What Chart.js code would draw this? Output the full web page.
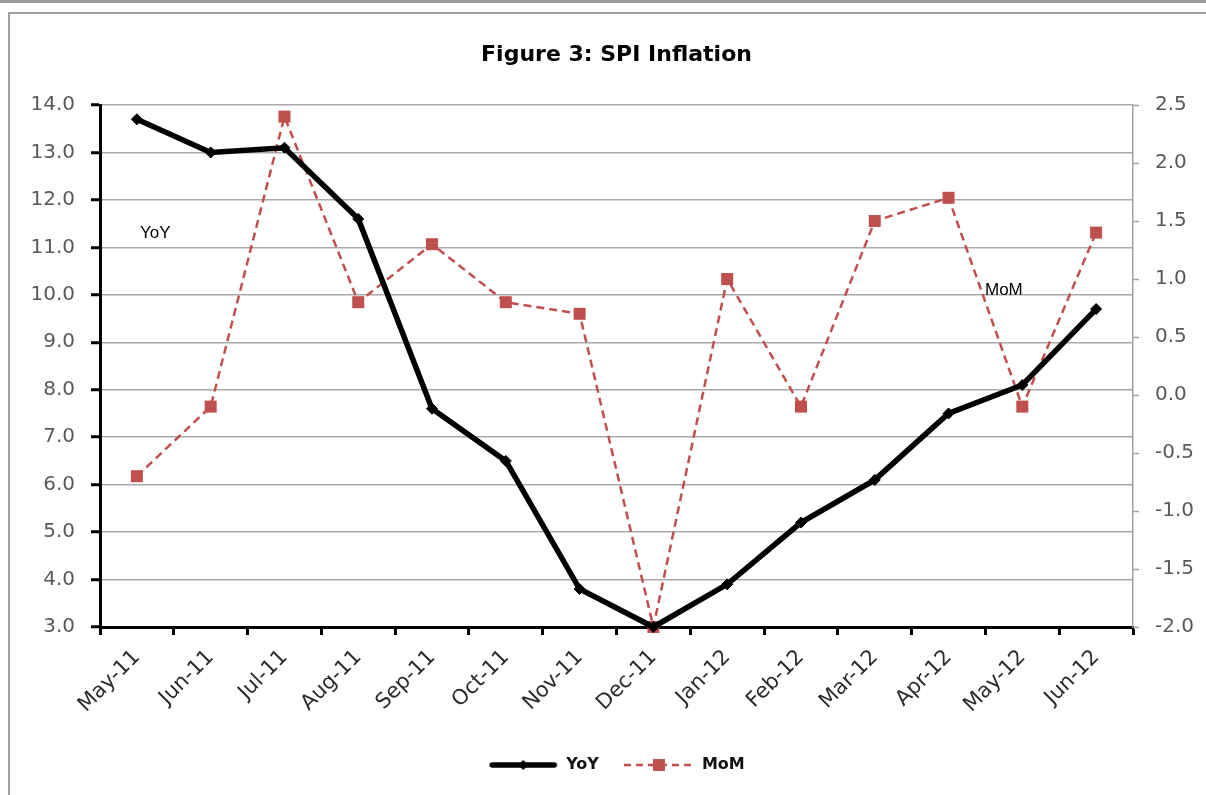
<!DOCTYPE html>
<html><head><meta charset="utf-8">
<script src="https://cdn.jsdelivr.net/npm/chart.js@4.4.1/dist/chart.umd.min.js"></script>
<style>html,body{margin:0;padding:0;background:#fff;overflow:hidden}#wrap{width:1206px;height:795px}</style>
</head><body><div id="wrap"><canvas id="c" width="1206" height="795"></canvas></div>
<script>
const categories = ['May-11','Jun-11','Jul-11','Aug-11','Sep-11','Oct-11','Nov-11','Dec-11','Jan-12','Feb-12','Mar-12','Apr-12','May-12','Jun-12'];
const yoyValues = [13.7,13.0,13.1,11.6,7.6,6.5,3.8,3.0,3.9,5.2,6.1,7.5,8.1,9.7];
const momValues = [-0.7,-0.1,2.4,0.8,1.3,0.8,0.7,-2.0,1.0,-0.1,1.5,1.7,-0.1,1.4];
const seriesNames = ['YoY','MoM'];
const titleText = 'Figure 3: SPI Inflation';
const leftAxisRange = [3, 14, 1];
const rightAxisRange = [-2, 2.5, 0.5];
const noteTexts = ['YoY','MoM'];
const noteCategoryPos = [0.25, 11.75];
const noteValues = [11.3, 0.9];
const noteAxes = ['y','y1'];

const RED = '#C0504D';

function makeSample(kind){
  const cv = document.createElement('canvas');
  cv.width = 70; cv.height = 16;
  const g = cv.getContext('2d');
  if (kind === 0) {
    g.strokeStyle = '#000'; g.lineWidth = 5.5; g.lineCap = 'round';
    g.beginPath(); g.moveTo(4, 8); g.lineTo(66, 8); g.stroke();
    g.fillStyle = '#000';
    g.beginPath(); g.moveTo(35, 3); g.lineTo(40, 8); g.lineTo(35, 13); g.lineTo(30, 8); g.closePath(); g.fill();
  } else {
    g.strokeStyle = RED; g.lineWidth = 2.5; g.setLineDash([7, 5]);
    g.beginPath(); g.moveTo(0, 8); g.lineTo(70, 8); g.stroke();
    g.fillStyle = RED; g.fillRect(29, 2, 12, 12);
  }
  return cv;
}

const framePlugin = {
  id: 'frame',
  beforeDraw(chart) {
    const ctx = chart.ctx;
    ctx.save();
    ctx.fillStyle = '#fff';
    ctx.fillRect(0, 0, chart.width, chart.height);
    ctx.fillStyle = '#999';
    ctx.fillRect(0, 0, chart.width, 3);
    ctx.strokeStyle = '#a0a0a0'; ctx.lineWidth = 2;
    ctx.beginPath(); ctx.moveTo(9, chart.height); ctx.lineTo(9, 13); ctx.lineTo(chart.width, 13); ctx.stroke();
    ctx.restore();
  }
};

const notePlugin = {
  id: 'notes',
  afterDatasetsDraw(chart) {
    const ctx = chart.ctx;
    ctx.save();
    ctx.font = '17px "Liberation Sans", Arial, sans-serif';
    ctx.fillStyle = '#000';
    ctx.textAlign = 'center';
    ctx.textBaseline = 'middle';
    noteTexts.forEach((t, i) => {
      const x = chart.scales.x.getPixelForValue(noteCategoryPos[i]);
      const y = chart.scales[noteAxes[i]].getPixelForValue(noteValues[i]);
      ctx.fillText(t, x, y);
    });
    ctx.restore();
  }
};

const tickFont = {family: '"DejaVu Sans", sans-serif', size: 20};

new Chart(document.getElementById('c'), {
  type: 'line',
  data: {
    labels: categories,
    datasets: [
      {
        label: seriesNames[0], data: yoyValues, yAxisID: 'y',
        borderColor: '#000', borderWidth: 5.5, tension: 0,
        pointStyle: 'rectRot', pointRadius: 5.5, pointBackgroundColor: '#000', pointBorderColor: '#000', pointBorderWidth: 1,
        clip: false
      },
      {
        label: seriesNames[1], data: momValues, yAxisID: 'y1',
        borderColor: RED, borderWidth: 2.5, borderDash: [8, 5], tension: 0,
        pointStyle: 'rect', pointRadius: 8.5, pointBackgroundColor: RED, pointBorderColor: RED, pointBorderWidth: 0,
        clip: false
      }
    ]
  },
  options: {
    responsive: false,
    animation: false,
    devicePixelRatio: 1,
    layout: {padding: {left: 0, right: 0, top: 0, bottom: 12}},
    plugins: {
      title: {
        display: true, text: titleText, color: '#000', fullSize: false,
        font: {family: '"DejaVu Sans", sans-serif', size: 22, weight: 'bold'},
        padding: {top: 42, bottom: 36.6}
      },
      legend: {
        position: 'bottom', fullSize: false,
        labels: {
          usePointStyle: true, pointStyleWidth: 70, padding: 25,
          color: '#000',
          font: {family: '"DejaVu Sans", sans-serif', size: 16, weight: 'bold'},
          generateLabels() {
            return seriesNames.map((n, i) => ({
              text: n, pointStyle: makeSample(i), hidden: false, datasetIndex: i,
              fillStyle: 'transparent', strokeStyle: 'transparent', lineWidth: 0, fontColor: '#111'
            }));
          }
        }
      },
      tooltip: {enabled: false}
    },
    scales: {
      x: {
        offset: true,
        grid: {display: true, drawOnChartArea: false, offset: true, tickLength: 8, tickColor: '#000', tickWidth: 3, color: '#000'},
        border: {display: true, color: '#000', width: 3},
        ticks: {autoSkip: false, minRotation: 45, maxRotation: 45, color: '#2b2b2b', font: {family: '"DejaVu Sans", sans-serif', size: 21}, padding: 10},
        afterFit(s) { s.height = 105; }
      },
      y: {
        position: 'left', min: leftAxisRange[0], max: leftAxisRange[1],
        grid: {color: '#aaaaaa', lineWidth: 1.5, tickLength: 9, tickColor: '#000', tickWidth: 3},
        border: {display: true, color: '#000', width: 3},
        ticks: {stepSize: leftAxisRange[2], color: '#595959', font: tickFont, padding: 16, callback: v => Number(v).toFixed(1)},
        afterFit(s) { s.width = 100; }
      },
      y1: {
        position: 'right', min: rightAxisRange[0], max: rightAxisRange[1],
        grid: {drawOnChartArea: false, tickLength: 6, tickColor: '#a0a0a0', tickWidth: 1.5},
        border: {display: true, color: '#a0a0a0', width: 1.5},
        ticks: {stepSize: rightAxisRange[2], color: '#595959', font: tickFont, padding: 16, callback: v => Number(v).toFixed(1)},
        afterFit(s) { s.width = 73; }
      }
    }
  },
  plugins: [framePlugin, notePlugin]
});
</script></body></html>
